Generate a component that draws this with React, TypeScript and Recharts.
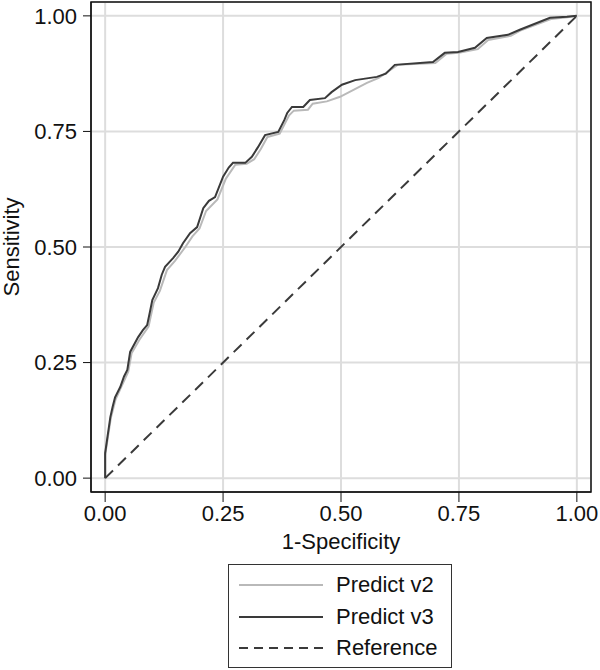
import React from "react";
import {
  CartesianGrid,
  Line,
  LineChart,
  ReferenceArea,
  XAxis,
  YAxis,
} from "recharts";

// ROC points (1-specificity, sensitivity)
const V2_FPR = [
  0, 0, 0.006, 0.012, 0.022, 0.033, 0.049, 0.056, 0.073, 0.092, 0.103, 0.116, 0.131, 0.148,
  0.17, 0.185, 0.2, 0.214, 0.238, 0.256, 0.276, 0.3, 0.316, 0.33, 0.344, 0.37, 0.39, 0.4,
  0.43, 0.44, 0.47, 0.498, 0.555, 0.58, 0.62, 0.7, 0.724, 0.75, 0.79, 0.812, 0.86, 0.88,
  0.945, 0.98, 1,
];
const V2_TPR = [
  0, 0.05, 0.09, 0.13, 0.17, 0.195, 0.23, 0.27, 0.3, 0.328, 0.38, 0.405, 0.45, 0.47,
  0.5, 0.523, 0.54, 0.578, 0.603, 0.648, 0.678, 0.68, 0.69, 0.712, 0.738, 0.745, 0.785, 0.795,
  0.797, 0.81, 0.815, 0.825, 0.855, 0.866, 0.894, 0.898, 0.918, 0.92, 0.928, 0.948, 0.957, 0.968,
  0.993, 0.997, 1,
];

const V3_FPR = [
  0, 0, 0.005, 0.011, 0.016, 0.021, 0.032, 0.04, 0.047, 0.053, 0.062, 0.07, 0.08, 0.089,
  0.095, 0.1, 0.112, 0.12, 0.127, 0.144, 0.155, 0.165, 0.18, 0.195, 0.208, 0.22, 0.233, 0.25,
  0.262, 0.271, 0.297, 0.311, 0.324, 0.339, 0.367, 0.38, 0.386, 0.396, 0.42, 0.434, 0.466, 0.48,
  0.502, 0.53, 0.576, 0.595, 0.614, 0.695, 0.72, 0.748, 0.784, 0.809, 0.854, 0.879, 0.943,
  0.979, 1,
];
const V3_TPR = [
  0, 0.054, 0.09, 0.132, 0.155, 0.175, 0.197, 0.22, 0.234, 0.273, 0.29, 0.305, 0.32, 0.331,
  0.36, 0.385, 0.411, 0.44, 0.457, 0.476, 0.49, 0.508, 0.53, 0.543, 0.584, 0.6, 0.608, 0.652,
  0.672, 0.682, 0.682, 0.695, 0.716, 0.742, 0.749, 0.775, 0.79, 0.803, 0.803, 0.818, 0.822, 0.835,
  0.851, 0.861, 0.868, 0.875, 0.894, 0.9, 0.92, 0.922, 0.931, 0.952, 0.959, 0.97, 0.996,
  0.998, 1,
];

const REF_X = [0, 1];
const REF_Y = [0, 1];

const TICKS = [0, 0.25, 0.5, 0.75, 1];
const DOMAIN: [number, number] = [-0.03, 1.03];

const FONT = "'Liberation Sans', Arial, Helvetica, sans-serif";
const FS = 22;
const LIGHT = "#b9b9b9";
const DARK = "#3a3a3a";

const toRows = (xs: number[], ys: number[]) => xs.map((x, i) => ({ x, y: ys[i] }));

const v2Rows = toRows(V2_FPR, V2_TPR);
const v3Rows = toRows(V3_FPR, V3_TPR);
const refRows = toRows(REF_X, REF_Y);

const LEGEND = [
  { label: "Predict v2", color: LIGHT, dash: undefined },
  { label: "Predict v3", color: DARK, dash: undefined },
  { label: "Reference", color: DARK, dash: "9 6" },
];

export default function App() {
  const fmt = (v: number) => v.toFixed(2);
  return (
    <div style={{ position: "absolute", left: 0, top: 0, width: 600, height: 670, background: "#fff", fontFamily: FONT }}>
      <LineChart width={600} height={670} margin={{ top: 2, right: 9, left: 0, bottom: 118 }}>
        <CartesianGrid stroke="#dddddd" strokeWidth={2} />
        <XAxis
          type="number"
          dataKey="x"
          domain={DOMAIN}
          ticks={TICKS}
          allowDataOverflow
          tickFormatter={fmt}
          height={60}
          tickSize={10}
          tickMargin={3}
          stroke="#111"
          tick={{ fill: "#111", fontSize: FS, fontFamily: FONT }}
          label={({ viewBox }: any) => (
            <text
              x={viewBox.x + viewBox.width / 2}
              y={549}
              textAnchor="middle"
              fill="#111"
              fontSize={FS}
              fontFamily={FONT}
            >
              1-Specificity
            </text>
          )}
        />
        <YAxis
          type="number"
          dataKey="y"
          domain={DOMAIN}
          ticks={TICKS}
          allowDataOverflow
          tickFormatter={fmt}
          width={91}
          tickSize={8}
          tickMargin={6}
          stroke="#111"
          tick={{ fill: "#111", fontSize: FS, fontFamily: FONT }}
          label={({ viewBox }: any) => {
            const cy = viewBox.y + viewBox.height / 2;
            return (
              <text
                x={19}
                y={cy}
                transform={`rotate(-90, 19, ${cy})`}
                textAnchor="middle"
                fill="#111"
                fontSize={FS}
                fontFamily={FONT}
              >
                Sensitivity
              </text>
            );
          }}
        />
        <ReferenceArea
          x1={DOMAIN[0]}
          x2={DOMAIN[1]}
          y1={DOMAIN[0]}
          y2={DOMAIN[1]}
          fill="none"
          stroke="#111"
          strokeWidth={1.5}
          ifOverflow="visible"
        />
        <Line
          data={v2Rows}
          dataKey="y"
          type="linear"
          stroke={LIGHT}
          strokeWidth={2}
          dot={false}
          isAnimationActive={false}
        />
        <Line
          data={v3Rows}
          dataKey="y"
          type="linear"
          stroke={DARK}
          strokeWidth={2}
          dot={false}
          isAnimationActive={false}
        />
        <Line
          data={refRows}
          dataKey="y"
          type="linear"
          stroke={DARK}
          strokeWidth={2}
          strokeDasharray="11 7"
          dot={false}
          isAnimationActive={false}
        />
      </LineChart>

      <div
        style={{
          position: "absolute",
          left: 228,
          top: 564,
          width: 224,
          height: 104,
          boxSizing: "border-box",
          border: "1.5px solid #333",
          background: "#fff",
        }}
      >
        {LEGEND.map((item, i) => (
          <div
            key={item.label}
            style={{ position: "absolute", left: 0, top: 6 + i * 31.5, height: 28, display: "flex", alignItems: "center" }}
          >
            <svg width={107} height={28} style={{ display: "block" }}>
              <line
                x1={10}
                x2={94}
                y1={14}
                y2={14}
                stroke={item.color}
                strokeWidth={2}
                strokeDasharray={item.dash}
              />
            </svg>
            <span style={{ fontSize: FS, color: "#111", fontFamily: FONT, lineHeight: "28px" }}>{item.label}</span>
          </div>
        ))}
      </div>
    </div>
  );
}
